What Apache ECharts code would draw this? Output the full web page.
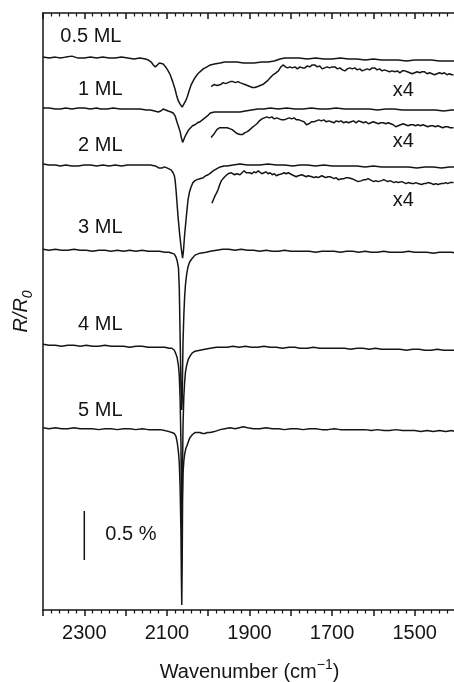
<!DOCTYPE html>
<html>
<head>
<meta charset="utf-8">
<script src="https://cdn.jsdelivr.net/npm/echarts@6/dist/echarts.min.js"></script>
<style>
html,body{margin:0;padding:0;background:#fff;}
#chart{width:454px;height:682px;}
</style>
</head>
<body>
<div id="chart"></div>
<script>
// Values: wavenumber (cm^-1), change in R/R0 in units of 0.01 % (each trace relative to its own baseline)
var ml05 = [[2400,0],[2385,-1],[2370,0],[2358,-1],[2345,0],[2330,1],[2315,-1],[2300,-1],[2285,0],[2270,-1],[2255,0],[2240,-1],[2225,-1],[2210,0],[2195,-1],[2180,-2],[2165,-1],[2152,-2],[2145,-3],[2138,-5],[2133,-8],[2128,-10],[2123,-8],[2118,-6],[2114,-5],[2109,-7],[2103,-10],[2097,-14],[2092,-18],[2086,-25],[2080,-33],[2076,-40],[2072,-45],[2068,-48],[2063,-51],[2059,-49],[2055,-45],[2051,-41],[2046,-34],[2041,-28],[2036,-24],[2032,-21],[2025,-17],[2020,-15],[2012,-12],[2003,-10],[1995,-8],[1985,-7],[1971,-6],[1960,-5],[1945,-5],[1930,-5],[1915,-6],[1900,-6],[1889,-6],[1870,-5],[1855,-5],[1840,-4],[1826,-2],[1815,-1],[1800,-1],[1780,-1],[1760,-2],[1740,-1],[1720,-2],[1700,-2],[1680,-1],[1660,-2],[1640,-2],[1620,-3],[1600,-2],[1580,-3],[1560,-3],[1540,-3],[1520,-4],[1500,-3],[1480,-3],[1460,-3],[1440,-4],[1420,-4],[1400,-4]];
var ml05x4 = [[1993,-17],[1989,-15],[1986,-15],[1982,-16],[1978,-16],[1974,-14],[1970,-15],[1964,-13],[1958,-14],[1952,-13],[1946,-12],[1940,-12],[1934,-13],[1928,-12],[1923,-13],[1917,-14],[1911,-15],[1905,-16],[1899,-17],[1893,-18],[1887,-18],[1880,-17],[1874,-16],[1868,-15],[1862,-13],[1856,-11],[1850,-8],[1843,-5],[1836,-3],[1830,-1],[1824,3],[1818,5],[1813,3],[1808,2],[1802,3],[1796,2],[1790,3],[1784,1],[1778,3],[1772,2],[1766,2],[1760,4],[1754,3],[1748,5],[1742,5],[1736,3],[1730,4],[1724,1],[1718,2],[1712,3],[1706,2],[1700,3],[1693,3],[1687,1],[1681,2],[1675,0],[1669,-1],[1663,1],[1657,2],[1651,1],[1645,2],[1639,0],[1633,1],[1627,-1],[1621,0],[1615,1],[1609,0],[1603,2],[1597,2],[1591,0],[1585,1],[1579,-1],[1573,0],[1567,-1],[1561,-2],[1555,-1],[1548,-2],[1542,-1],[1536,-3],[1530,-1],[1524,-1],[1518,-2],[1512,-3],[1506,-4],[1500,-3],[1494,-2],[1488,-3],[1482,-2],[1476,-2],[1470,-4],[1464,-3],[1458,-4],[1452,-5],[1446,-4],[1440,-3],[1434,-4],[1428,-3],[1422,-5],[1416,-4],[1410,-5],[1406,-5]];
var ml1 = [[2400,0],[2385,0],[2370,-1],[2358,-1],[2345,0],[2330,-1],[2315,0],[2300,0],[2285,-1],[2270,0],[2261,-1],[2245,-1],[2230,0],[2213,-1],[2195,-1],[2180,-1],[2165,-1],[2150,-2],[2140,-2],[2130,-3],[2121,-4],[2115,-3],[2109,-1],[2103,-2],[2097,-3],[2090,-4],[2085,-5],[2080,-8],[2075,-15],[2071,-20],[2068,-24],[2065,-30],[2062,-35],[2059,-32],[2055,-28],[2051,-26],[2047,-22],[2044,-20],[2038,-18],[2032,-17],[2026,-15],[2020,-14],[2014,-12],[2008,-10],[2002,-8],[1995,-5],[1985,-4],[1971,-4],[1960,-4],[1950,-4],[1935,-4],[1923,-4],[1910,-3],[1895,-2],[1880,-1],[1865,-1],[1850,0],[1830,-1],[1810,0],[1790,-1],[1770,-1],[1750,0],[1730,-1],[1710,-1],[1690,0],[1670,-1],[1650,-1],[1630,-1],[1610,-1],[1590,-2],[1570,-1],[1550,-1],[1530,-2],[1510,-2],[1490,-2],[1470,-2],[1450,-2],[1430,-3],[1410,-2],[1400,-2]];
var ml1x4 = [[1993,-16],[1990,-14],[1987,-13],[1983,-11],[1979,-8],[1976,-6],[1972,-6],[1968,-5],[1964,-6],[1960,-5],[1954,-6],[1948,-7],[1942,-8],[1936,-10],[1930,-12],[1923,-13],[1917,-13],[1911,-11],[1905,-10],[1899,-8],[1894,-6],[1888,-4],[1882,-2],[1876,1],[1870,3],[1864,4],[1858,5],[1852,4],[1846,5],[1840,3],[1834,4],[1828,3],[1822,2],[1816,2],[1810,3],[1804,4],[1798,3],[1792,4],[1786,2],[1780,2],[1774,1],[1768,0],[1762,-3],[1756,-2],[1750,0],[1744,0],[1738,1],[1732,2],[1726,1],[1720,2],[1714,0],[1708,1],[1702,0],[1696,-1],[1690,1],[1684,0],[1678,1],[1672,-1],[1666,0],[1660,-1],[1654,0],[1648,1],[1642,-1],[1636,1],[1630,0],[1624,-1],[1618,0],[1612,-2],[1606,-1],[1600,0],[1594,-1],[1588,-2],[1582,-1],[1576,-1],[1570,-2],[1564,-1],[1558,-2],[1552,-3],[1546,-5],[1540,-4],[1534,-3],[1528,-2],[1522,-3],[1516,-4],[1510,-3],[1504,-3],[1498,-4],[1492,-3],[1486,-4],[1480,-3],[1474,-4],[1468,-5],[1462,-4],[1456,-4],[1450,-5],[1444,-4],[1438,-5],[1432,-6],[1426,-5],[1420,-5],[1414,-6],[1406,-6]];
var ml2 = [[2400,1],[2385,0],[2370,0],[2358,-1],[2345,0],[2330,-1],[2315,-1],[2300,0],[2285,0],[2270,-1],[2255,0],[2240,-1],[2225,0],[2210,-1],[2195,0],[2180,0],[2165,0],[2150,0],[2140,0],[2128,-1],[2120,-3],[2116,-4],[2111,-3],[2106,-2],[2100,-3],[2095,-4],[2090,-5],[2085,-8],[2082,-11],[2080,-16],[2078,-25],[2076,-36],[2073,-53],[2069,-71],[2065,-86],[2062,-95],[2060,-88],[2057,-71],[2053,-53],[2049,-36],[2045,-27],[2041,-22],[2037,-18],[2032,-16],[2027,-15],[2020,-14],[2012,-13],[2006,-11],[2000,-10],[1994,-8],[1988,-6],[1980,-4],[1971,-2],[1962,-1],[1954,-1],[1940,0],[1923,1],[1905,0],[1890,0],[1875,0],[1855,1],[1835,0],[1815,0],[1795,-1],[1778,0],[1760,0],[1740,-1],[1720,0],[1700,-1],[1680,-1],[1657,-1],[1640,-1],[1620,-2],[1600,-1],[1580,-2],[1560,-2],[1536,-2],[1515,-2],[1495,-3],[1475,-2],[1455,-2],[1435,-3],[1415,-2],[1400,-2]];
var ml2x4 = [[1991,-28],[1987,-24],[1983,-20],[1979,-17],[1976,-14],[1972,-9],[1968,-5],[1964,-3],[1960,-1],[1956,1],[1952,2],[1948,1],[1944,3],[1940,2],[1936,1],[1931,2],[1927,0],[1923,1],[1918,3],[1913,5],[1908,3],[1904,4],[1899,3],[1894,2],[1889,4],[1884,3],[1879,5],[1875,4],[1870,2],[1865,3],[1860,4],[1855,2],[1850,3],[1845,1],[1840,2],[1835,0],[1830,1],[1826,1],[1821,2],[1816,3],[1811,2],[1806,3],[1802,3],[1797,1],[1792,0],[1787,-1],[1782,0],[1778,-1],[1773,1],[1768,0],[1763,-1],[1758,0],[1754,0],[1749,-1],[1744,-2],[1739,-1],[1734,-2],[1730,-2],[1725,0],[1720,-1],[1715,-2],[1710,-1],[1705,-1],[1700,-2],[1695,-3],[1690,-2],[1685,-4],[1681,-4],[1676,-3],[1671,-3],[1666,-2],[1661,-2],[1657,-2],[1652,-3],[1647,-4],[1642,-5],[1637,-6],[1633,-6],[1628,-5],[1623,-4],[1618,-4],[1613,-3],[1609,-4],[1604,-5],[1599,-6],[1594,-5],[1589,-6],[1585,-6],[1580,-5],[1575,-4],[1570,-5],[1565,-6],[1560,-5],[1555,-6],[1550,-7],[1545,-6],[1540,-7],[1536,-7],[1531,-6],[1526,-7],[1521,-8],[1516,-7],[1512,-7],[1507,-8],[1502,-8],[1497,-7],[1492,-8],[1488,-8],[1483,-9],[1478,-8],[1473,-8],[1468,-7],[1464,-7],[1459,-8],[1454,-9],[1449,-8],[1444,-9],[1440,-9],[1435,-8],[1430,-8],[1425,-7],[1420,-8],[1415,-7],[1410,-7],[1406,-7]];
var ml3 = [[2400,1],[2385,0],[2370,1],[2355,0],[2340,0],[2325,1],[2310,0],[2295,0],[2280,-1],[2265,0],[2250,0],[2235,-1],[2220,0],[2205,-1],[2190,0],[2175,-1],[2160,0],[2145,-1],[2130,-1],[2118,-1],[2105,-2],[2095,-2],[2088,-3],[2082,-4],[2078,-7],[2075,-11],[2072,-18],[2070,-39],[2068,-87],[2066,-138],[2064,-163],[2063,-153],[2062,-122],[2061,-94],[2059,-66],[2057,-47],[2055,-35],[2052,-24],[2049,-17],[2045,-12],[2040,-9],[2032,-5],[2020,-3],[2005,-2],[1995,-1],[1980,0],[1965,1],[1950,1],[1935,0],[1920,1],[1905,0],[1890,0],[1875,-1],[1860,0],[1845,-1],[1830,-1],[1815,0],[1800,-1],[1785,-1],[1770,-1],[1755,-1],[1740,-2],[1725,-1],[1710,-1],[1695,-1],[1680,-2],[1665,-1],[1650,-1],[1635,-2],[1620,-1],[1605,-2],[1590,-2],[1575,-1],[1560,-2],[1545,-2],[1530,-2],[1515,-1],[1500,-2],[1485,-2],[1470,-2],[1455,-3],[1440,-2],[1425,-2],[1410,-2],[1400,-3]];
var ml4 = [[2400,1],[2385,0],[2370,0],[2355,-1],[2340,0],[2325,0],[2310,-1],[2295,0],[2280,-1],[2265,-1],[2250,0],[2235,-1],[2220,-1],[2205,-1],[2190,-2],[2175,-1],[2160,-1],[2145,-2],[2130,-2],[2116,-2],[2105,-2],[2095,-3],[2088,-3],[2082,-5],[2078,-9],[2075,-13],[2072,-21],[2070,-31],[2068,-55],[2066,-100],[2065,-150],[2064,-186],[2063,-170],[2062,-120],[2061,-82],[2059,-52],[2057,-37],[2055,-27],[2052,-20],[2048,-14],[2044,-11],[2039,-8],[2032,-6],[2020,-5],[2008,-4],[1995,-3],[1980,-2],[1965,-2],[1954,-2],[1940,-1],[1925,-2],[1910,-1],[1895,-2],[1880,-2],[1865,-1],[1850,-2],[1835,-2],[1820,-3],[1805,-2],[1790,-2],[1778,-3],[1760,-3],[1745,-2],[1730,-3],[1715,-3],[1700,-3],[1685,-3],[1670,-3],[1655,-4],[1640,-3],[1625,-3],[1610,-4],[1595,-3],[1580,-4],[1565,-4],[1550,-4],[1536,-4],[1520,-5],[1505,-4],[1490,-4],[1475,-5],[1460,-5],[1445,-4],[1430,-5],[1415,-5],[1400,-5]];
var ml5 = [[2400,1],[2385,0],[2370,1],[2355,0],[2340,0],[2325,1],[2310,0],[2295,0],[2280,0],[2265,-1],[2250,0],[2235,0],[2220,-1],[2205,0],[2190,0],[2175,-1],[2160,0],[2145,-1],[2130,-1],[2116,-1],[2105,-2],[2095,-3],[2088,-4],[2082,-5],[2078,-8],[2075,-14],[2072,-24],[2070,-35],[2068,-60],[2066,-105],[2065,-150],[2064,-180],[2063,-140],[2062,-72],[2061,-46],[2059,-33],[2057,-26],[2054,-20],[2051,-17],[2047,-12],[2044,-9],[2038,-6],[2032,-4],[2026,-4],[2020,-4],[2014,-5],[2008,-5],[2002,-4],[1995,-4],[1985,-3],[1971,-1],[1960,0],[1947,1],[1935,0],[1925,1],[1915,2],[1905,1],[1890,0],[1875,0],[1860,1],[1845,0],[1830,0],[1815,-1],[1800,0],[1785,0],[1770,-1],[1755,0],[1740,0],[1725,-1],[1710,-1],[1695,0],[1680,-1],[1665,-1],[1650,-1],[1635,-1],[1620,-1],[1605,-2],[1590,-1],[1575,-2],[1560,-2],[1545,-1],[1530,-2],[1515,-2],[1500,-2],[1485,-3],[1470,-2],[1455,-3],[1440,-2],[1425,-3],[1410,-2],[1400,-3]];

// vertical stacking offsets of each trace (same units)
var traces  = [ml05, ml05x4, ml1, ml1x4, ml2, ml2x4, ml3, ml4, ml5];
var offsets = [564,  551,    512, 498,   454, 443,   367, 270, 185];

// text labels: [wavenumber, value, text]
var traceLabels = [[2358,585,'0.5 ML'],[2315,531,'1 ML'],[2315,474,'2 ML'],[2315,390,'3 ML'],[2315,291,'4 ML'],[2315,204,'5 ML'],
                   [1553,530,'x4'],[1553,478,'x4'],[1553,418,'x4'],[2249,77,'0.5 %']];
// scale bar: 0.5 % = 50 units
var scaleBar = [[2300,51],[2300,101]];
var xTickLabels = [2300, 2100, 1900, 1700, 1500];

var FONT = "'Liberation Sans', Arial, sans-serif";
var INK = '#151515';

var series = traces.map(function (t, i) {
  return {
    type: 'line', showSymbol: false, silent: true,
    lineStyle: { color: INK, width: 1.5 },
    data: t.map(function (p) { return [p[0], p[1] + offsets[i]]; }),
    xAxisIndex: 0, yAxisIndex: 0
  };
});
series.push({
  type: 'line', showSymbol: false, silent: true,
  lineStyle: { color: INK, width: 1.5 },
  data: scaleBar
});
series.push({
  type: 'scatter', symbolSize: 0, silent: true,
  itemStyle: { opacity: 1, color: INK },
  data: traceLabels,
  label: {
    show: true, position: 'right', distance: 0, opacity: 1,
    fontFamily: FONT, fontSize: 20, color: INK,
    textBorderWidth: 0, textShadowBlur: 0,
    formatter: function (p) { return p.data[2]; }
  }
});

var chart = echarts.init(document.getElementById('chart'));
var common = {
  type: 'value', min: 1400, max: 2400, interval: 100, inverse: true,
  splitLine: { show: false },
  axisLine: { onZero: false, lineStyle: { color: INK, width: 1.5 } },
  minorTick: { show: true, splitNumber: 5, length: 3.5, lineStyle: { color: INK, width: 1.2 } }
};
chart.setOption({
  animation: false,
  backgroundColor: '#fff',
  grid: { left: 43, top: 13, width: 413, height: 597, containLabel: false, outerBoundsMode: 'none' },
  xAxis: [
    Object.assign({}, common, {
      position: 'bottom',
      axisTick: { show: true, inside: false, length: 6, lineStyle: { color: INK, width: 1.5 } },
      axisLabel: {
        fontFamily: FONT, fontSize: 20, color: INK, margin: 13,
        showMinLabel: true, showMaxLabel: true,
        formatter: function (v) { return xTickLabels.indexOf(v) >= 0 ? String(v) : ''; }
      },
      name: '{t|Wavenumber (cm}{s|−1}{t|)}',
      nameLocation: 'middle', nameGap: 48,
      nameTextStyle: {
        rich: {
          t: { fontFamily: FONT, fontSize: 20, color: INK, lineHeight: 28 },
          s: { fontFamily: FONT, fontSize: 14, color: INK, verticalAlign: 'top' }
        }
      }
    }),
    Object.assign({}, common, {
      position: 'top',
      axisTick: { show: true, inside: true, length: 6, lineStyle: { color: INK, width: 1.5 } },
      axisLabel: { show: false }
    })
  ],
  yAxis: {
    type: 'value', min: 0, max: 609,
    splitLine: { show: false },
    axisTick: { show: false },
    axisLabel: { show: false },
    axisLine: { show: true, onZero: false, lineStyle: { color: INK, width: 1.5 } },
    name: '{a|R/R}{b|0}',
    nameLocation: 'middle', nameGap: 8, nameRotate: 90,
    nameTextStyle: {
      rich: {
        a: { fontFamily: FONT, fontSize: 20, fontStyle: 'italic', color: INK, lineHeight: 28 },
        b: { fontFamily: FONT, fontSize: 14, fontStyle: 'italic', color: INK, verticalAlign: 'bottom' }
      }
    }
  },
  series: series
});
</script>
</body>
</html>
